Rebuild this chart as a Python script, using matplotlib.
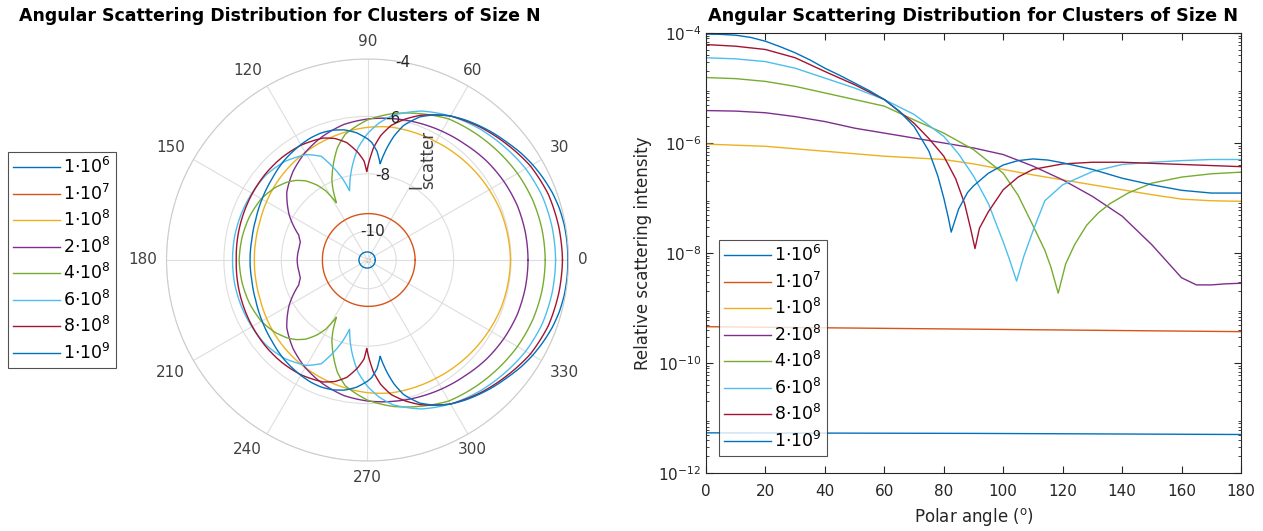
import numpy as np
import matplotlib
matplotlib.use("Agg")
import matplotlib.pyplot as plt
from matplotlib.ticker import LogLocator, NullFormatter, FixedLocator

# Cluster sizes and their legend labels
cluster_sizes = ["1e6", "1e7", "1e8", "2e8", "4e8", "6e8", "8e8", "1e9"]
legend_labels = [r"$1{\cdot}10^{6}$", r"$1{\cdot}10^{7}$", r"$1{\cdot}10^{8}$",
                 r"$2{\cdot}10^{8}$", r"$4{\cdot}10^{8}$", r"$6{\cdot}10^{8}$",
                 r"$8{\cdot}10^{8}$", r"$1{\cdot}10^{9}$"]

# Relative scattering intensity (log10) versus polar angle in degrees, per cluster size
angle_1e6 = [0, 90, 180]
logI_1e6 = [-11.27, -11.28, -11.30]

angle_1e7 = [0, 60, 120, 180]
logI_1e7 = [-9.34, -9.37, -9.40, -9.43]

angle_1e8 = [0, 20, 40, 60, 80, 90, 100, 110, 120, 130, 140, 150, 160, 170, 180]
logI_1e8 = [-6.02, -6.06, -6.15, -6.24, -6.30, -6.38, -6.48, -6.58, -6.67, -6.76,
            -6.85, -6.94, -7.02, -7.05, -7.06]

angle_2e8 = [0, 10, 20, 30, 40, 50, 60, 70, 80, 90, 100, 110, 120, 130, 140, 150,
             155, 160, 165, 170, 175, 180]
logI_2e8 = [-5.41, -5.42, -5.45, -5.52, -5.61, -5.73, -5.82, -5.91, -6.00, -6.09,
            -6.21, -6.42, -6.67, -6.97, -7.33, -7.85, -8.15, -8.45, -8.58, -8.58,
            -8.56, -8.55]

angle_4e8 = [0, 10, 20, 30, 40, 50, 60, 70, 80, 90, 100, 105, 110, 114, 116, 118.5,
             121, 124, 128, 132, 136, 142, 150, 160, 170, 180]
logI_4e8 = [-4.81, -4.83, -4.88, -4.97, -5.09, -5.21, -5.33, -5.58, -5.82, -6.12,
            -6.55, -6.95, -7.50, -7.95, -8.25, -8.73, -8.20, -7.85, -7.50, -7.27,
            -7.10, -6.91, -6.73, -6.62, -6.56, -6.53]

angle_6e8 = [0, 10, 20, 30, 40, 50, 60, 70, 80, 85, 90, 95, 100, 102, 104.5, 107,
             110, 114, 120, 130, 140, 150, 160, 170, 180]
logI_6e8 = [-4.45, -4.47, -4.52, -4.64, -4.82, -5.00, -5.21, -5.48, -5.88, -6.20,
            -6.60, -7.10, -7.80, -8.10, -8.51, -8.05, -7.60, -7.05, -6.76, -6.52,
            -6.39, -6.35, -6.32, -6.30, -6.30]

angle_8e8 = [0, 10, 20, 30, 40, 50, 60, 70, 75, 80, 84, 87, 89, 90.5, 92, 95, 100,
             105, 110, 120, 130, 140, 150, 160, 170, 180]
logI_8e8 = [-4.21, -4.24, -4.30, -4.45, -4.70, -4.94, -5.21, -5.64, -5.92, -6.24,
            -6.65, -7.10, -7.55, -7.92, -7.55, -7.25, -6.85, -6.62, -6.48, -6.38,
            -6.35, -6.35, -6.37, -6.39, -6.41, -6.43]

angle_1e9 = [0, 5, 10, 15, 20, 25, 30, 35, 40, 45, 50, 55, 60, 65, 70, 75, 78, 80,
             81.5, 82.5, 85, 88, 90, 95, 100, 105, 110, 115, 120, 130, 140, 150, 160,
             170, 180]
logI_1e9 = [-4.02, -4.025, -4.04, -4.08, -4.15, -4.25, -4.36, -4.49, -4.64, -4.77,
            -4.91, -5.05, -5.21, -5.42, -5.70, -6.15, -6.60, -7.00, -7.35, -7.62,
            -7.20, -6.90, -6.78, -6.55, -6.40, -6.32, -6.29, -6.31, -6.36, -6.48,
            -6.64, -6.76, -6.86, -6.91, -6.91]

angles = [angle_1e6, angle_1e7, angle_1e8, angle_2e8, angle_4e8, angle_6e8, angle_8e8, angle_1e9]
log_intensity = [logI_1e6, logI_1e7, logI_1e8, logI_2e8, logI_4e8, logI_6e8, logI_8e8, logI_1e9]

# Radial axis of the polar view (log10 of intensity)
r_limits = (-11, -4)
r_ticks = [-10, -8, -6, -4]
theta_ticks = list(range(0, 360, 30))

colors = [(0, 0.447, 0.741), (0.85, 0.325, 0.098), (0.929, 0.694, 0.125),
          (0.494, 0.184, 0.556), (0.466, 0.674, 0.188), (0.301, 0.745, 0.933),
          (0.635, 0.078, 0.184), (0, 0.447, 0.741)]

title = "Angular Scattering Distribution for Clusters of Size N"
axis_color = (0.15, 0.15, 0.15)
label_gray = (0.25, 0.25, 0.25)

plt.rcParams["font.family"] = ["DejaVu Sans"]
plt.rcParams["mathtext.fontset"] = "dejavusans"
plt.rcParams["axes.unicode_minus"] = False

W, H = 1263, 531
fig = plt.figure(figsize=(W / 100, H / 100), dpi=100)

def fx(px):
    return px / W

def fy(py):
    return 1 - py / H

legend_kw = dict(fontsize=12.5, frameon=True, fancybox=False, edgecolor=axis_color,
                 handlelength=2.7, handletextpad=0.15, labelspacing=0.37,
                 borderpad=0.3, borderaxespad=0)

# ---------------- polar view ----------------
cx, cy, R = 367.5, 260, 201
axp = fig.add_axes([fx(cx - R), fy(cy + R), 2 * R / W, 2 * R / H], projection="polar")
rmin = r_limits[0]
handles = []
for ang, lg, col, lab in zip(angles, log_intensity, colors, legend_labels):
    a = np.array(ang, dtype=float)
    v = np.array(lg, dtype=float)
    # values below the radial limit are drawn reflected through the origin
    v = rmin + np.abs(v - rmin)
    # mirror the 0..180 degree profile onto 180..360
    th = np.deg2rad(np.concatenate([a, 360 - a[::-1]]))
    rr = np.concatenate([v, v[::-1]])
    h, = axp.plot(th, rr, color=col, lw=1.0, label=lab)
    # follow arcs between samples instead of straight chords
    h.get_path()._interpolation_steps = 60
    handles.append(h)

axp.set_rlim(*r_limits)
axp.set_rticks(r_ticks)
axp.set_yticklabels([])
axp.set_thetagrids(theta_ticks, [""] * len(theta_ticks))
axp.grid(color=(0.87, 0.87, 0.87), lw=0.8)
axp.spines["polar"].set_color((0.8, 0.8, 0.8))
axp.spines["polar"].set_linewidth(0.8)
axp.plot([0], [rmin], marker="o", ms=3, color=(0.72, 0.72, 0.72), zorder=1)

# angle labels just outside the outer ring, aligned away from the centre
gap = 9.5
for d in theta_ticks:
    c, s = np.cos(np.deg2rad(d)), np.sin(np.deg2rad(d))
    ha = "left" if c > 0.6 else ("right" if c < -0.1 else "center")
    va = "bottom" if s > 0.1 else ("top" if s < -0.1 else "center")
    k = (R + gap) / (2 * R)
    axp.text(0.5 + k * c, 0.5 + k * s, str(d), transform=axp.transAxes,
             fontsize=11, color=label_gray, ha=ha, va=va)

# radial tick labels along the 80 degree spoke
for rt in r_ticks:
    axp.text(np.deg2rad(80), rt, str(rt), fontsize=11, color=axis_color,
             ha="center", va="center")

# radial axis label, I with subscript "scatter", along the label spoke
fig.text(fx(416.5), fy(187), "I", rotation=90, fontsize=12, color=label_gray,
         ha="center", va="center")
fig.text(fx(428.5), fy(160), "scatter", rotation=90, fontsize=12, color=label_gray,
         ha="center", va="center")

leg = fig.legend(handles=handles, loc="upper left",
                 bbox_to_anchor=(fx(8), fy(152)), **legend_kw)
leg.get_frame().set_linewidth(0.8)

fig.text(fx(280), fy(16), title, ha="center", va="center",
         fontsize=12.5, fontweight="bold")

# ---------------- linear-angle view ----------------
ax_left, ax_right, ax_top, ax_bottom = 706, 1241, 33, 473
axr = fig.add_axes([fx(ax_left), fy(ax_bottom), (ax_right - ax_left) / W,
                    (ax_bottom - ax_top) / H])
handles_r = []
for ang, lg, col, lab in zip(angles, log_intensity, colors, legend_labels):
    h, = axr.plot(ang, 10.0 ** np.array(lg), color=col, lw=1.0, label=lab)
    handles_r.append(h)
axr.set_yscale("log")
axr.set_xlim(0, 180)
axr.set_ylim(1e-12, 1e-4)
axr.xaxis.set_major_locator(FixedLocator(np.arange(0, 181, 20)))
axr.yaxis.set_major_locator(FixedLocator([1e-12, 1e-10, 1e-8, 1e-6, 1e-4]))
axr.yaxis.set_minor_locator(LogLocator(base=10, subs=np.arange(2, 10), numticks=20))
axr.yaxis.set_minor_formatter(NullFormatter())
axr.tick_params(which="both", direction="in", top=True, right=True,
                colors=axis_color, labelsize=11)
axr.tick_params(axis="x", pad=8)
axr.tick_params(which="major", length=5, width=0.8)
axr.tick_params(which="minor", length=2.5, width=0.6)
for s in axr.spines.values():
    s.set_color(axis_color)
    s.set_linewidth(0.8)
axr.set_xlabel(r"Polar angle ($^{\rm o}$)", fontsize=12, color=axis_color, labelpad=5)
axr.set_ylabel("Relative scattering intensity", fontsize=12, color=axis_color)
fig.text(fx(973), fy(16), title, ha="center", va="center",
         fontsize=12.7, fontweight="bold")
legr = axr.legend(handles=handles_r, loc="upper left",
                  bbox_to_anchor=((719 - ax_left) / (ax_right - ax_left),
                                  (ax_bottom - 240) / (ax_bottom - ax_top)),
                  **legend_kw)
legr.get_frame().set_linewidth(0.8)

fig.savefig("out.png", dpi=100)
